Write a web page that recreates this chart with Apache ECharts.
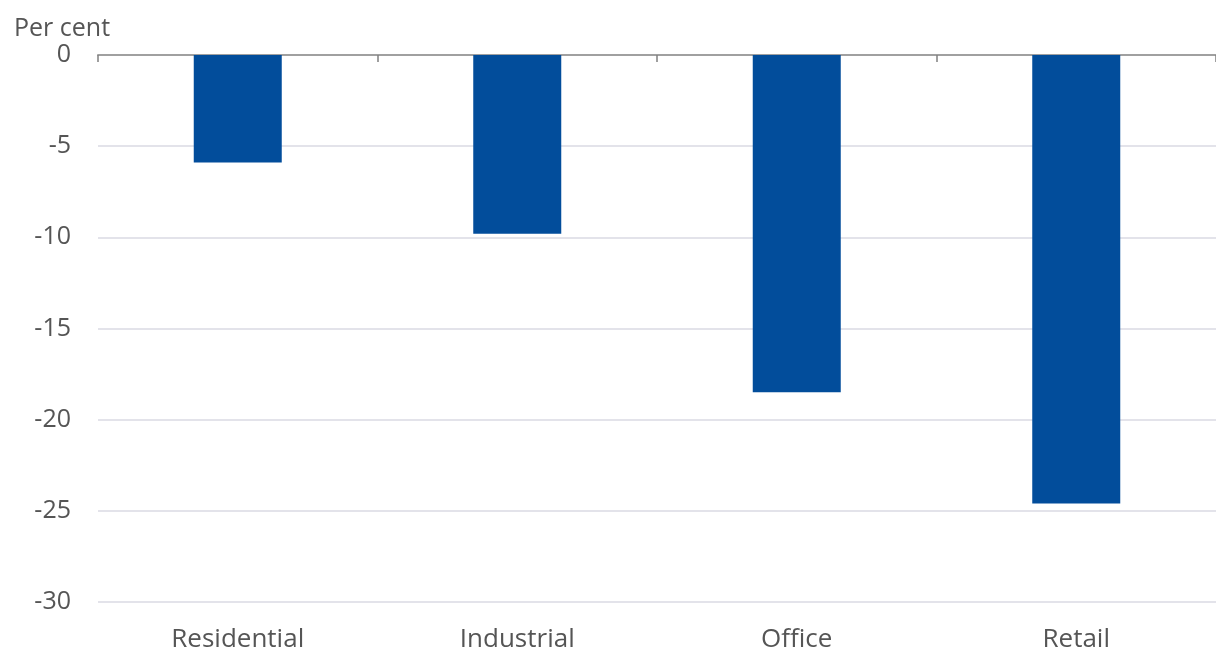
<!DOCTYPE html>
<html>
<head>
<meta charset="utf-8">
<script src="https://cdn.jsdelivr.net/npm/echarts@6/dist/echarts.min.js"></script>
<style>html,body{margin:0;padding:0;background:#fff}#c{width:1216px;height:653px}</style>
</head>
<body>
<div id="c"></div>
<script>
const categories = ['Residential', 'Industrial', 'Office', 'Retail'];
const values = [-5.9, -9.8, -18.5, -24.6];
const yTicks = { min: -30, max: 0, interval: 5 };
const unitLabel = 'Per cent';

const chart = echarts.init(document.getElementById('c'));
const font = '"Open Sans", sans-serif';
chart.setOption({
  animation: false,
  title: {
    text: unitLabel, left: 9, top: 11,
    textStyle: { fontFamily: font, fontSize: 25, fontWeight: 'normal', color: '#555' }
  },
  grid: { left: 98, right: 0, top: 55, bottom: 50 },
  xAxis: [
    {
      type: 'category', data: categories, position: 'top',
      axisLine: { show: true, onZero: false, lineStyle: { color: '#a0a0a0', width: 2 } },
      axisTick: { show: true, inside: true, length: 7, lineStyle: { color: '#808080', width: 1.5 } },
      axisLabel: { show: false }, splitLine: { show: false }
    },
    {
      type: 'category', data: categories, position: 'bottom',
      axisLine: { show: false, onZero: false }, axisTick: { show: false },
      axisLabel: { margin: 25, fontFamily: font, fontSize: 26, color: '#555' },
      splitLine: { show: false }
    }
  ],
  yAxis: {
    type: 'value', min: yTicks.min, max: yTicks.max, interval: yTicks.interval,
    axisLine: { show: false }, axisTick: { show: false },
    axisLabel: { margin: 27, fontFamily: font, fontSize: 25, color: '#555' },
    splitLine: { show: true, lineStyle: { color: '#e3e3ea', width: 2 } }
  },
  series: [{
    type: 'bar', xAxisIndex: 0, data: values, barWidth: 88,
    itemStyle: { color: '#024d9b' }
  }]
});
</script>
</body>
</html>
